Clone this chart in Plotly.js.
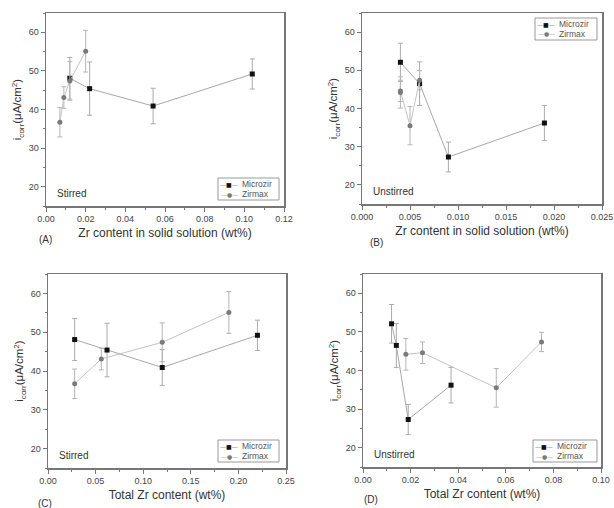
<!DOCTYPE html>
<html>
<head>
<meta charset="utf-8">
<script src="https://cdn.plot.ly/plotly-3.0.1.min.js"></script>
<style>html,body{margin:0;padding:0;background:#fff;}#chart{width:614px;height:508px;}</style>
</head>
<body>
<div id="chart"></div>
<script>
// ---- Data ----
const seriesNames = ["Microzir", "Zirmax"];

// Panel A: Zr content in solid solution, stirred
const a_micro_x = [0.012, 0.022, 0.054, 0.104];
const a_zir_x   = [0.007, 0.009, 0.012, 0.020];
// Panel C: total Zr content, stirred
const c_micro_x = [0.028, 0.062, 0.12, 0.22];
const c_zir_x   = [0.028, 0.056, 0.12, 0.19];
// Stirred currents (A and C)
const stir_micro_y   = [48.1, 45.4, 40.9, 49.2];
const stir_micro_err = [5.4, 6.9, 4.6, 3.9];
const stir_zir_y     = [36.7, 43.1, 47.4, 55.1];
const stir_zir_err   = [3.8, 2.8, 5.0, 5.4];

// Panel B: Zr content in solid solution, unstirred
const b_micro_x = [0.004, 0.006, 0.009, 0.019];
const b_zir_x   = [0.004, 0.004, 0.005, 0.006];
// Panel D: total Zr content, unstirred
const d_micro_x = [0.012, 0.014, 0.019, 0.037];
const d_zir_x   = [0.018, 0.025, 0.056, 0.075];
// Unstirred currents (B and D)
const unst_micro_y   = [52.1, 46.5, 27.3, 36.2];
const unst_micro_err = [5.0, 5.7, 3.9, 4.6];
const unst_zir_y     = [44.2, 44.6, 35.5, 47.4];
const unst_zir_err   = [4.1, 2.8, 5.0, 2.5];

const xTitles = ["Zr content in solid solution (wt%)", "Zr content in solid solution (wt%)",
                 "Total Zr content (wt%)", "Total Zr content (wt%)"];
const panelLabels = ["(A)", "(B)", "(C)", "(D)"];
const conditionLabels = ["Stirred", "Unstirred", "Stirred", "Unstirred"];

// ---- Layout geometry (pixels) ----
const W = 614, H = 508;
const boxes = [
  {l: 46, r: 284, t: 13, b: 206},
  {l: 362, r: 602, t: 13, b: 204},
  {l: 48, r: 286, t: 274, b: 468},
  {l: 363, r: 601, t: 274, b: 467}
];
const xRanges = [[0, 0.12], [0, 0.025], [0, 0.25], [0, 0.10]];
const xDticks = [0.02, 0.005, 0.05, 0.02];
const xFormats = [".2f", ".3f", ".2f", ".2f"];

const textCol = "#444";
const axisCol = "#777";
const font = "Liberation Sans, Arial, sans-serif";
const microLine = "#a8a8a8", zirLine = "#c4c4c4";
const microMarker = "#111", zirMarker = "#7a7a7a";

const panels = [
  {mx: a_micro_x, my: stir_micro_y, me: stir_micro_err, zx: a_zir_x, zy: stir_zir_y, ze: stir_zir_err},
  {mx: b_micro_x, my: unst_micro_y, me: unst_micro_err, zx: b_zir_x, zy: unst_zir_y, ze: unst_zir_err},
  {mx: c_micro_x, my: stir_micro_y, me: stir_micro_err, zx: c_zir_x, zy: stir_zir_y, ze: stir_zir_err},
  {mx: d_micro_x, my: unst_micro_y, me: unst_micro_err, zx: d_zir_x, zy: unst_zir_y, ze: unst_zir_err}
];

const traces = [];
const layout = {
  width: W, height: H,
  margin: {l: 0, r: 0, t: 0, b: 0},
  paper_bgcolor: "#fff", plot_bgcolor: "#fff",
  font: {family: font, color: textCol, size: 9},
  annotations: [], shapes: [],
  showlegend: false
};

// legend boxes (px)
const legendBoxes = [
  {l: 218, r: 279, t: 178, b: 200},
  {l: 535, r: 597, t: 18, b: 40},
  {l: 218, r: 279, t: 440, b: 462},
  {l: 533, r: 597, t: 440, b: 462}
];

const px = (v) => v / W, py = (v) => 1 - v / H;

panels.forEach((p, i) => {
  const s = i === 0 ? "" : String(i + 1);
  traces.push({
    type: "scatter", mode: "lines+markers", name: seriesNames[0],
    x: p.mx, y: p.my, xaxis: "x" + s, yaxis: "y" + s,
    line: {color: microLine, width: 1},
    marker: {symbol: "square", size: 5, color: microMarker},
    error_y: {type: "data", array: p.me, visible: true, color: "#aaa", thickness: 1, width: 2.5}
  });
  traces.push({
    type: "scatter", mode: "lines+markers", name: seriesNames[1],
    x: p.zx, y: p.zy, xaxis: "x" + s, yaxis: "y" + s,
    line: {color: zirLine, width: 1},
    marker: {symbol: "circle", size: 5, color: zirMarker},
    error_y: {type: "data", array: p.ze, visible: true, color: "#b5b5b5", thickness: 1, width: 2.5}
  });

  const b = boxes[i];
  layout["xaxis" + s] = {
    domain: [px(b.l), px(b.r)], anchor: "y" + s,
    range: xRanges[i], dtick: xDticks[i], tick0: 0, tickformat: xFormats[i],
    showgrid: false, zeroline: false, showline: true, linecolor: axisCol, linewidth: 1.5, mirror: true,
    ticks: "outside", ticklen: 4, tickcolor: axisCol, tickwidth: 1,
    minor: {dtick: xDticks[i] / 2, ticks: "outside", ticklen: 2, tickcolor: axisCol, showgrid: false},
    tickfont: {size: 9, color: textCol, family: font},
    title: {text: xTitles[i], font: {size: 12, color: "#333", family: font}, standoff: 5},
    fixedrange: true
  };
  layout["yaxis" + s] = {
    domain: [py(b.b), py(b.t)], anchor: "x" + s,
    range: [15, 65], dtick: 10, tick0: 0,
    showgrid: false, zeroline: false, showline: true, linecolor: axisCol, linewidth: 1.5, mirror: true,
    ticks: "outside", ticklen: 4, tickcolor: axisCol, tickwidth: 1,
    minor: {dtick: 5, ticks: "outside", ticklen: 2, tickcolor: axisCol, showgrid: false},
    tickfont: {size: 9, color: textCol, family: font},
    title: {text: "i<sub>corr</sub>(μA/cm<sup>2</sup>)", font: {size: 11.5, color: "#333", family: font}, standoff: 4},
    fixedrange: true
  };

  // compact legend box
  const lb = legendBoxes[i];
  layout.shapes.push({
    type: "rect", xref: "paper", yref: "paper",
    x0: px(lb.l), x1: px(lb.r), y0: py(lb.b), y1: py(lb.t),
    line: {color: "#999", width: 1}, fillcolor: "#fff", layer: "above"
  });
  const rows = [
    {y: lb.t + 6, sym: "■", symCol: microMarker, lineCol: "#777", name: seriesNames[0]},
    {y: lb.t + 16, sym: "●", symCol: zirMarker, lineCol: "#999", name: seriesNames[1]}
  ];
  rows.forEach(r => {
    layout.annotations.push({
      text: `<span style="color:${r.lineCol}">—</span><span style="color:${r.symCol}">${r.sym}</span><span style="color:${r.lineCol}">—</span>`,
      xref: "paper", yref: "paper", x: px(lb.l + 11), y: py(r.y), xanchor: "center", yanchor: "middle",
      showarrow: false, font: {size: 6, family: "DejaVu Sans, sans-serif"}
    });
    layout.annotations.push({
      text: r.name, xref: "paper", yref: "paper", x: px(lb.l + 22), y: py(r.y),
      xanchor: "left", yanchor: "middle", showarrow: false,
      font: {size: 8.5, color: "#555", family: font}
    });
  });

  // condition label inside plot
  layout.annotations.push({
    text: conditionLabels[i], xref: "paper", yref: "paper",
    x: px(b.l + 9), y: py(b.b - 13), xanchor: "left", yanchor: "middle",
    showarrow: false, font: {size: 10, color: "#333", family: font}
  });
});

// panel labels
const panelLabelPos = [[37, 239], [368, 242], [36, 503], [362, 499]];
panelLabels.forEach((t, i) => {
  layout.annotations.push({
    text: t, xref: "paper", yref: "paper",
    x: px(panelLabelPos[i][0]), y: py(panelLabelPos[i][1]), xanchor: "left", yanchor: "middle",
    showarrow: false, font: {size: 10, color: "#333", family: font}
  });
});

Plotly.newPlot("chart", traces, layout, {staticPlot: true, displayModeBar: false});
</script>
</body>
</html>
